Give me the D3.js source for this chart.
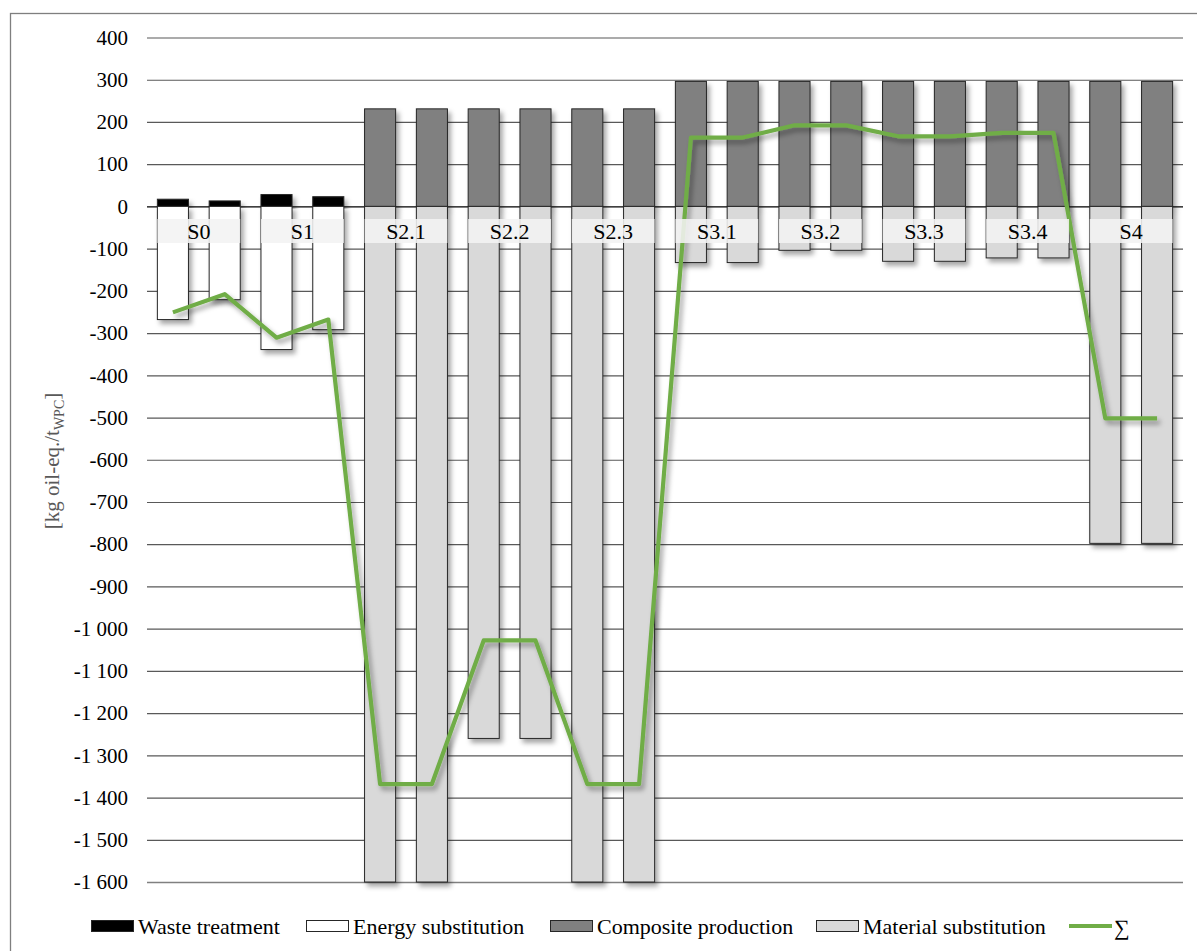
<!DOCTYPE html>
<html><head><meta charset="utf-8">
<script src="https://cdn.jsdelivr.net/npm/d3@7"></script>
<style>
body{margin:0;background:#fff;}
svg text{font-family:"Liberation Serif","Times New Roman",serif;}
</style></head>
<body><svg id="chart" width="1197" height="951"></svg>
<script>
// ---------- data ----------
const bars = ["S0a","S0b","S1a","S1b","S2.1a","S2.1b","S2.2a","S2.2b","S2.3a","S2.3b",
              "S3.1a","S3.1b","S3.2a","S3.2b","S3.3a","S3.3b","S3.4a","S3.4b","S4a","S4b"];
const groupLabels = ["S0","S1","S2.1","S2.2","S2.3","S3.1","S3.2","S3.3","S3.4","S4"];
const wasteTreatment      = [17,13,28,23, 0,0,0,0,0,0, 0,0,0,0,0,0,0,0, 0,0];
const energySubstitution  = [-268,-221,-339,-292, 0,0,0,0,0,0, 0,0,0,0,0,0,0,0, 0,0];
const compositeProduction = [0,0,0,0, 231,231,231,231,231,231, 296,296,296,296,296,296,296,296, 296,296];
const materialSubstitution= [0,0,0,0, -1600,-1600,-1260,-1260,-1600,-1600, -133,-133,-104,-104,-130,-130,-122,-122, -798,-798];
const sumSeries           = [-251,-208,-311,-268, -1368,-1368,-1028,-1028,-1368,-1368, 163,163,192,192,166,166,174,174, -502,-502];
const yTicks = [400,300,200,100,0,-100,-200,-300,-400,-500,-600,-700,-800,-900,-1000,-1100,-1200,-1300,-1400,-1500,-1600];
const legendNames = ["Waste treatment","Energy substitution","Composite production","Material substitution","\u2211"];

// ---------- setup ----------
const svg = d3.select("#chart");
const defs = svg.append("defs");
const f = defs.append("filter").attr("id","shadow").attr("x","-30%").attr("y","-10%").attr("width","160%").attr("height","130%");
f.append("feDropShadow").attr("dx",3).attr("dy",4).attr("stdDeviation",2.5).attr("flood-color","#000").attr("flood-opacity",0.35);

const left = 147, right = 1183;
const x = d3.scaleBand().domain(bars).range([left,right]).paddingInner(0.4).paddingOuter(0.2);
const y = d3.scaleLinear().domain([-1600,400]).range([882,37.5]);

const loc = d3.formatLocale({decimal:".", thousands:"\u00a0", grouping:[3], currency:["",""], minus:"-"});
const fmt = loc.format(",d");

// outer border
svg.append("rect").attr("x",10.5).attr("y",13.5).attr("width",1200).attr("height",960)
  .attr("fill","none").attr("stroke","#7f7f7f").attr("stroke-width",1.3);

// gridlines & ticks
const yAxis = d3.axisLeft(y).tickValues(yTicks).tickSize(-(right-left)).tickFormat(fmt).tickPadding(19);
const gA = svg.append("g").attr("transform",`translate(${left},0)`).call(yAxis);
gA.select(".domain").remove();
gA.selectAll(".tick line").attr("stroke", d => d===0 ? "#000" : (d===-1600 ? "#808080" : "#595959"))
  .attr("stroke-width", d => d===-1600 ? 1.5 : 1.2);
gA.selectAll(".tick text").attr("font-size",21).attr("fill","#000")
  .attr("font-family","Liberation Serif, Times New Roman, serif");

// bars
const series = [
  {vals: wasteTreatment, fill:"#000000"},
  {vals: energySubstitution, fill:"#ffffff"},
  {vals: compositeProduction, fill:"#808080"},
  {vals: materialSubstitution, fill:"#d9d9d9"}
];
const gB = svg.append("g");
bars.forEach((b,i) => {
  series.forEach(s => {
    const v = s.vals[i];
    if (v === 0) return;
    gB.append("rect")
      .attr("x", x(b)).attr("width", x.bandwidth())
      .attr("y", y(Math.max(0,v))).attr("height", Math.abs(y(v)-y(0)))
      .attr("fill", s.fill).attr("stroke","#262626").attr("stroke-width",1)
      .attr("filter","url(#shadow)");
  });
});

// sum line
const line = d3.line().x((d,i)=>x(bars[i])+x.bandwidth()/2).y(d=>y(d));
svg.append("path").datum(sumSeries).attr("d",line).attr("fill","none")
  .attr("stroke","#70ad47").attr("stroke-width",4.2).attr("stroke-linejoin","round")
  .attr("filter","url(#shadow)");

// group label boxes
const gL = svg.append("g");
groupLabels.forEach((lab,k) => {
  const x0 = x(bars[2*k]), x1 = x(bars[2*k+1]) + x.bandwidth();
  gL.append("rect").attr("x",x0).attr("y",219).attr("width",x1-x0).attr("height",24)
    .attr("fill","#f2f2f2").attr("opacity",0.88);
  gL.append("text").attr("x",(x0+x1)/2).attr("y",239).attr("text-anchor","middle")
    .attr("font-size",22).attr("fill","#000").text(lab);
});

// y axis title
const t = svg.append("text").attr("transform","translate(59,461) rotate(-90)")
  .attr("text-anchor","middle").attr("font-size",21).attr("fill","#595959");
t.append("tspan").text("[kg oil-eq./t");
t.append("tspan").attr("font-size",14).attr("dy",5).text("WPC");
t.append("tspan").attr("dy",-5).text("]");

// legend
const lg = svg.append("g");
const legendX = [91, 306, 550, 816, 1069];
const legendFill = ["#000000","#ffffff","#808080","#d9d9d9"];
legendNames.forEach((n,i) => {
  const lx = legendX[i];
  if (i < 4) {
    lg.append("rect").attr("x",lx+0.5).attr("y",920.5).attr("width",42).attr("height",11)
      .attr("fill",legendFill[i]).attr("stroke","#262626").attr("stroke-width",1);
    lg.append("text").attr("x",lx+47).attr("y",934).attr("font-size",22).attr("fill","#000").text(n);
  } else {
    lg.append("line").attr("x1",lx).attr("x2",lx+43).attr("y1",926).attr("y2",926)
      .attr("stroke","#70ad47").attr("stroke-width",4.2);
    lg.append("text").attr("x",lx+45).attr("y",935).attr("font-size",22).attr("fill","#000").text(n);
  }
});
</script></body></html>
